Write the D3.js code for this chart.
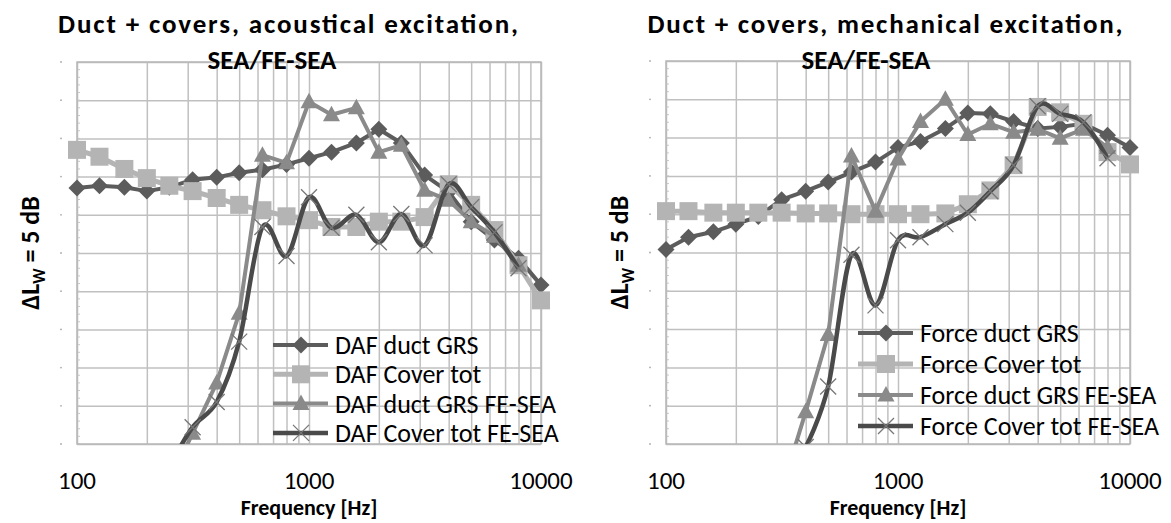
<!DOCTYPE html>
<html lang="en">
<head>
    <meta charset="UTF-8">
    <title>Duct + covers, SEA/FE-SEA</title>
    <style>
        body { margin: 0; background: #fff; }
        text { font-family: Carlito, Lato, 'Open Sans', sans-serif; fill: #000; }
    </style>
</head>
<body>
    <div id="charts"></div>
    <script src="https://d3js.org/d3.v7.min.js"></script>
    <script>
        // 1/3 octave band centre frequencies
        var freqs = [100, 125, 160, 200, 250, 315, 400, 500, 630, 800, 1000,
                     1250, 1600, 2000, 2500, 3150, 4000, 5000, 6300, 8000, 10000];
        var tickLabels = [100, 1000, 10000];

        // acoustical excitation (dB, arbitrary reference, 5 dB per gridline)
        var dafDuct     = [33.5, 33.8, 33.6, 33.1, 33.6, 34.6, 34.9, 35.5, 35.9, 36.6, 37.4,
                           38.2, 39.4, 41.2, 39.4, 35.2, 33.0, 29.1, 26.7, 24.3, 20.8];
        var dafCover    = [38.5, 37.6, 36.0, 34.8, 33.8, 33.1, 32.2, 31.3, 30.6, 29.8, 29.3,
                           28.4, 28.4, 29.1, 29.1, 29.7, 34.0, 31.3, 28.0, 23.4, 18.8];
        var dafDuctFe   = [null, null, null, null, -5, 1.4, 8.0, 17.1, 37.8, 36.8, 44.8,
                           43.1, 44.0, 38.2, 39.1, 33.2, 31.9, 29.1, 27.2, 23.4, null];
        var dafCoverFe  = [null, null, null, null, -3, 2.2, 5.5, 13.4, 28.4, 24.6, 32.3,
                           28.3, 30.0, 26.4, 30.1, 26.0, 34.0, 31.0, 27.7, 23.0, null];

        // mechanical excitation
        var forceDuct    = [25.4, 27.0, 27.7, 28.7, 29.7, 31.9, 33.0, 34.2, 35.5, 36.8, 38.7,
                            39.5, 41.2, 43.2, 43.1, 42.1, 41.2, 41.4, 41.8, 40.3, 38.7];
        var forceCover   = [30.4, 30.4, 30.2, 30.2, 30.2, 30.2, 30.1, 30.1, 30.0, 30.0, 30.0,
                            30.0, 30.1, 31.3, 33.1, 36.4, 44.0, 43.3, 41.8, 38.1, 36.5];
        var forceDuctFe  = [null, null, null, null, null, -6, 4.2, 14.3, 37.6, 30.4, 37.2,
                            42.1, 45.0, 40.4, 41.8, 40.7, 41.1, 39.9, 41.1, 38.7, null];
        var forceCoverFe = [null, null, null, null, null, null, -0.4, 7.5, 24.7, 18.1, 26.6,
                            27.0, 28.7, 30.2, 33.0, 36.4, 44.1, 43.1, 42.0, 37.3, null];

        var leftNames  = ['DAF duct GRS', 'DAF Cover tot', 'DAF duct GRS FE-SEA', 'DAF Cover tot FE-SEA'];
        var rightNames = ['Force duct GRS', 'Force Cover tot', 'Force duct GRS FE-SEA', 'Force Cover tot FE-SEA'];

        var styles = [
            {line: '#5c5c5c', width: 4,   marker: 'diamond',  fill: '#5c5c5c', smooth: false},
            {line: '#b4b4b4', width: 5,   marker: 'square',   fill: '#b4b4b4', smooth: false},
            {line: '#8a8a8a', width: 4,   marker: 'triangle', fill: '#8a8a8a', smooth: false},
            {line: '#4a4a4a', width: 4.5, marker: 'cross',    fill: 'none',    smooth: true}
        ];

        var W = 1171, H = 523;
        var svg = d3.select('#charts').append('svg')
            .attr('width', W)
            .attr('height', H);

        function markerPath(type) {
            var p = d3.path();
            if (type === 'diamond') {
                p.moveTo(0, -8.5); p.lineTo(8.5, 0); p.lineTo(0, 8.5); p.lineTo(-8.5, 0); p.closePath();
            } else if (type === 'square') {
                p.rect(-9, -9, 18, 18);
            } else if (type === 'triangle') {
                p.moveTo(0, -9); p.lineTo(8.5, 6.5); p.lineTo(-8.5, 6.5); p.closePath();
            } else {
                p.moveTo(-8, -8); p.lineTo(8, 8); p.moveTo(8, -8); p.lineTo(-8, 8);
            }
            return p.toString();
        }

        function drawChart(cfg) {
            var g = svg.append('g');
            var x = d3.scaleLog().domain([100, 10000]).range([cfg.left, cfg.left + 464]);
            var y = d3.scaleLinear().domain([0, 50]).range([444, cfg.top]);

            var clipId = 'clip' + cfg.id;
            svg.append('clipPath').attr('id', clipId)
                .append('rect')
                .attr('x', cfg.left - 12).attr('y', cfg.top - 12)
                .attr('width', 464 + 24).attr('height', 444 - cfg.top + 12);

            // gridlines at every 1..9 x 10^n
            var decades = [];
            [100, 1000].forEach(function(d) { for (var k = 1; k < 10; k++) decades.push(d * k); });
            decades.push(10000);
            var xGrid = d3.axisBottom(x)
                .tickValues(decades)
                .tickSize(-(444 - cfg.top))
                .tickFormat('');

            g.append('g')
                .attr('transform', 'translate(0,444)')
                .call(xGrid)
                .call(function(s) {
                    s.select('.domain').remove();
                    s.selectAll('line').attr('stroke', '#c0c0c0').attr('stroke-width', 1.5);
                });

            var yGrid = d3.axisLeft(y)
                .ticks(10)
                .tickSize(-464)
                .tickFormat('');
            g.append('g')
                .attr('transform', 'translate(' + cfg.left + ',0)')
                .call(yGrid)
                .call(function(s) {
                    s.select('.domain').remove();
                    s.selectAll('line').attr('stroke', '#c0c0c0').attr('stroke-width', 1.5);
                });

            // minor ticks on the left border
            g.append('g').selectAll('line')
                .data(d3.range(0, 50, 1))
                .enter().append('line')
                .attr('x1', cfg.left).attr('x2', cfg.left + 3)
                .attr('y1', function(d) { return y(d); })
                .attr('y2', function(d) { return y(d); })
                .attr('stroke', '#c8c8c8').attr('stroke-width', 1);

            // dots for the empty y tick labels
            g.append('g').selectAll('circle')
                .data(d3.range(0, 55, 5))
                .enter().append('circle')
                .attr('cx', cfg.left - 16)
                .attr('cy', function(d) { return y(d); })
                .attr('r', 0.9)
                .attr('fill', '#aaa');

            // plot border
            g.append('rect')
                .attr('x', cfg.left).attr('y', cfg.top)
                .attr('width', 464).attr('height', 444 - cfg.top)
                .attr('fill', 'none').attr('stroke', '#b8b8b8').attr('stroke-width', 1.5);

            // series
            var plot = g.append('g').attr('clip-path', 'url(#' + clipId + ')');
            cfg.series.forEach(function(vals, i) {
                var st = styles[i];
                var pts = freqs.map(function(f, j) { return {f: f, v: vals[j]}; })
                    .filter(function(d) { return d.v !== null; });
                var line = d3.line()
                    .x(function(d) { return x(d.f); })
                    .y(function(d) { return y(d.v); })
                    .curve(st.smooth ? d3.curveCardinal.tension(0) : d3.curveLinear);
                plot.append('path')
                    .datum(pts)
                    .attr('d', line)
                    .attr('fill', 'none')
                    .attr('stroke', st.line)
                    .attr('stroke-width', st.width)
                    .attr('stroke-linejoin', 'round');
                plot.append('g').selectAll('path')
                    .data(pts)
                    .enter().append('path')
                    .attr('transform', function(d) { return 'translate(' + x(d.f) + ',' + y(d.v) + ')'; })
                    .attr('d', markerPath(st.marker))
                    .attr('fill', st.fill)
                    .attr('stroke', st.marker === 'cross' ? '#777' : 'none')
                    .attr('stroke-width', 1.3);
            });

            // legend (no box, gridlines show through)
            var legend = g.append('g').selectAll('.legend')
                .data(cfg.names)
                .enter().append('g')
                .attr('class', 'legend')
                .attr('transform', function(d, i) { return 'translate(' + cfg.legX + ',' + (cfg.legY + i * cfg.legStep) + ')'; });
            legend.append('line')
                .attr('x1', 0).attr('x2', 55)
                .attr('stroke', function(d, i) { return styles[i].line; })
                .attr('stroke-width', function(d, i) { return styles[i].width; });
            legend.append('path')
                .attr('transform', 'translate(28,0)')
                .attr('d', function(d, i) { return markerPath(styles[i].marker); })
                .attr('fill', function(d, i) { return styles[i].fill; })
                .attr('stroke', function(d, i) { return styles[i].marker === 'cross' ? '#777' : 'none'; })
                .attr('stroke-width', 1.3);
            legend.append('text')
                .attr('x', 62)
                .attr('dy', '0.35em')
                .style('font-size', '26px')
                .text(function(d) { return d; });

            // x tick labels
            g.append('g').selectAll('text')
                .data(tickLabels)
                .enter().append('text')
                .attr('x', function(d) { return x(d); })
                .attr('y', 489)
                .attr('text-anchor', 'middle')
                .style('font-size', '25px')
                .text(function(d) { return d; });

            // axis titles
            g.append('text')
                .attr('x', x(1000))
                .attr('y', 515)
                .attr('text-anchor', 'middle')
                .style('font-size', '22px')
                .style('font-weight', 'bold')
                .text('Frequency [Hz]');

            var yl = g.append('text')
                .attr('transform', 'translate(' + (cfg.left - 38) + ',' + (444 + cfg.top) / 2 + ') rotate(-90)')
                .attr('text-anchor', 'middle')
                .style('font-size', '26px')
                .style('font-weight', 'bold');
            yl.append('tspan').text('\u0394L');
            yl.append('tspan').attr('dy', 6).style('font-size', '17px').text('W');
            yl.append('tspan').attr('dy', -6).text(' = 5 dB');

            // title
            var title = g.append('text')
                .attr('text-anchor', 'middle')
                .style('font-size', '27px')
                .style('font-weight', 'bold');
            title.append('tspan')
                .attr('x', cfg.titleX).attr('y', 33)
                .attr('textLength', cfg.titleLen)
                .attr('lengthAdjust', 'spacing')
                .text(cfg.title);
            title.append('tspan').attr('x', cfg.subX).attr('y', 69).text('SEA/FE-SEA');
        }

        drawChart({
            id: 'L', left: 77, top: 62, titleX: 288, subX: 272, titleLen: 460,
            title: 'Duct + covers, acoustical excitation,',
            series: [dafDuct, dafCover, dafDuctFe, dafCoverFe],
            names: leftNames,
            legX: 273, legY: 345, legStep: 29.3
        });

        drawChart({
            id: 'R', left: 666, top: 61, titleX: 885, subX: 866, titleLen: 475,
            title: 'Duct + covers, mechanical excitation,',
            series: [forceDuct, forceCover, forceDuctFe, forceCoverFe],
            names: rightNames,
            legX: 858, legY: 333, legStep: 31
        });
    </script>
</body>
</html>
